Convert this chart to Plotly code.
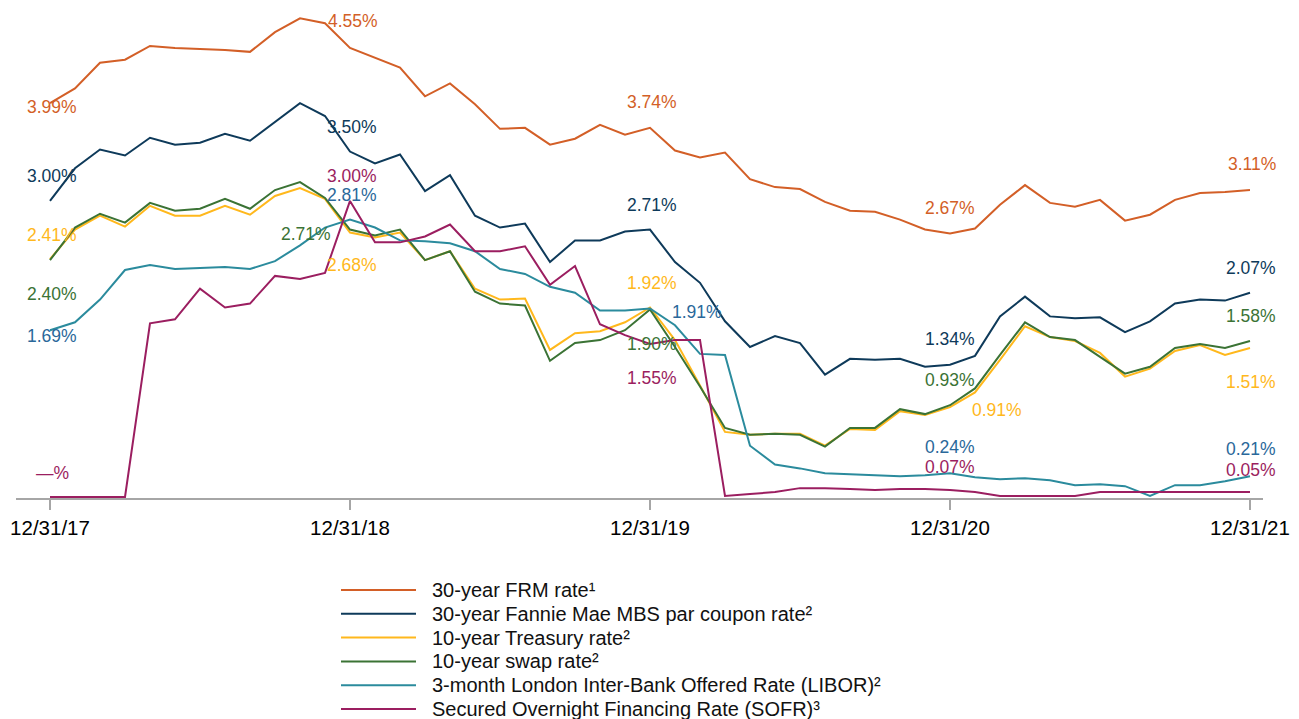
import pandas as pd
import plotly.graph_objects as go

# Month-end observation dates (12/31/17 .. 12/31/21)
months = list(pd.date_range("2017-12-31", periods=49, freq="ME").strftime("%m/%d/%y"))
tick_labels = ["12/31/17", "12/31/18", "12/31/19", "12/31/20", "12/31/21"]

frm = [3.99, 4.14, 4.40, 4.43, 4.57, 4.55, 4.54, 4.53, 4.51, 4.71,
       4.85, 4.80, 4.55, 4.45, 4.35, 4.06, 4.19, 3.98, 3.73, 3.74,
       3.57, 3.63, 3.77, 3.67, 3.74, 3.51, 3.44, 3.49, 3.22, 3.14,
       3.12, 2.99, 2.90, 2.89, 2.81, 2.71, 2.67, 2.72, 2.96, 3.16,
       2.98, 2.94, 3.01, 2.80, 2.86, 3.01, 3.08, 3.09, 3.11]
fannie = [3.00, 3.33, 3.52, 3.46, 3.64, 3.57, 3.59, 3.68, 3.61, 3.80,
          3.99, 3.86, 3.50, 3.38, 3.47, 3.10, 3.26, 2.85, 2.73, 2.77,
          2.38, 2.60, 2.60, 2.69, 2.71, 2.38, 2.17, 1.78, 1.52, 1.63,
          1.56, 1.24, 1.40, 1.39, 1.40, 1.32, 1.34, 1.43, 1.83, 2.03,
          1.83, 1.81, 1.82, 1.67, 1.78, 1.96, 2.00, 1.99, 2.07]
treasury = [2.41, 2.71, 2.85, 2.74, 2.95, 2.85, 2.85, 2.95, 2.86, 3.05,
            3.13, 3.02, 2.68, 2.63, 2.68, 2.40, 2.49, 2.11, 2.00, 2.01,
            1.49, 1.66, 1.68, 1.77, 1.92, 1.59, 1.13, 0.66, 0.63, 0.64,
            0.64, 0.52, 0.69, 0.68, 0.87, 0.83, 0.91, 1.06, 1.39, 1.73,
            1.62, 1.58, 1.46, 1.22, 1.30, 1.48, 1.54, 1.44, 1.51]
swap = [2.40, 2.73, 2.87, 2.78, 2.98, 2.90, 2.92, 3.02, 2.92, 3.11,
        3.19, 3.03, 2.71, 2.65, 2.71, 2.40, 2.49, 2.08, 1.96, 1.94,
        1.38, 1.56, 1.59, 1.69, 1.90, 1.52, 1.12, 0.70, 0.63, 0.64,
        0.63, 0.51, 0.70, 0.70, 0.89, 0.84, 0.93, 1.10, 1.44, 1.77,
        1.62, 1.59, 1.42, 1.25, 1.32, 1.51, 1.55, 1.51, 1.58]
libor = [1.69, 1.77, 2.00, 2.30, 2.35, 2.31, 2.32, 2.33, 2.31, 2.39,
         2.55, 2.73, 2.81, 2.73, 2.60, 2.59, 2.57, 2.49, 2.31, 2.26,
         2.13, 2.07, 1.89, 1.89, 1.91, 1.74, 1.45, 1.44, 0.52, 0.33,
         0.29, 0.24, 0.23, 0.22, 0.21, 0.22, 0.24, 0.20, 0.18, 0.19,
         0.17, 0.12, 0.13, 0.11, 0.01, 0.12, 0.12, 0.16, 0.21]
sofr = [0.00, 0.00, 0.00, 0.00, 1.76, 1.80, 2.11, 1.92, 1.96, 2.24,
        2.21, 2.27, 3.00, 2.58, 2.58, 2.64, 2.76, 2.49, 2.49, 2.54,
        2.15, 2.34, 1.75, 1.64, 1.55, 1.59, 1.59, 0.01, 0.03, 0.05,
        0.09, 0.09, 0.08, 0.07, 0.08, 0.08, 0.07, 0.05, 0.01, 0.01,
        0.01, 0.01, 0.05, 0.05, 0.05, 0.05, 0.05, 0.05, 0.05]

series_names = [
    "30-year FRM rate¹",
    "30-year Fannie Mae MBS par coupon rate²",
    "10-year Treasury rate²",
    "10-year swap rate²",
    "3-month London Inter-Bank Offered Rate (LIBOR)²",
    "Secured Overnight Financing Rate (SOFR)³",
]
series_values = [frm, fannie, treasury, swap, libor, sofr]
line_colors = ["#d35f27", "#0e3a5a", "#ffb81c", "#3b7335", "#2b8b9d", "#9b1e60"]
label_colors = ["#d35f27", "#0e3a5a", "#ffb81c", "#3b7335", "#2a689a", "#9b1e60"]

# Labelled points: (series index, month index, text, xshift, yshift)
point_labels = [
    (0, 0, "3.99%", 2, -4), (0, 12, "4.55%", 3, 27), (0, 24, "3.74%", 2, 26),
    (0, 36, "2.67%", 0, 25), (0, 48, "3.11%", 2, 26),
    (1, 0, "3.00%", 2, 25), (1, 12, "3.50%", 2, 25), (1, 24, "2.71%", 2, 25),
    (1, 36, "1.34%", 0, 26), (1, 48, "2.07%", 1, 25),
    (2, 0, "2.41%", 2, 24), (2, 12, "2.68%", 2, -33), (2, 24, "1.92%", 2, 25),
    (2, 36, "0.91%", 47, -3), (2, 48, "1.51%", 1, -34),
    (3, 0, "2.40%", 2, -34), (3, 12, "2.71%", -44, -4), (3, 24, "1.90%", 2, -35),
    (3, 36, "0.93%", 0, 25), (3, 48, "1.58%", 1, 25),
    (4, 0, "1.69%", 2, -6), (4, 12, "2.81%", 2, 25), (4, 24, "1.91%", 47, -4),
    (4, 36, "0.24%", 0, 26), (4, 48, "0.21%", 1, 27),
    (5, 0, "—%", 2, 24), (5, 12, "3.00%", 2, 25), (5, 24, "1.55%", 2, -34),
    (5, 36, "0.07%", 0, 23), (5, 48, "0.05%", 1, 22),
]

FONT = "Liberation Sans, Arial, sans-serif"

# The page adds an 8px body margin, so the figure is drawn 8px in from the corner.
OFF = 8
W, H = 1299 - OFF, 719 - OFF
L, T = 16 - OFF, 10 - OFF
R = W - (1263 - OFF)
B = H - (498 - OFF)
PW, PH = W - L - R, H - T - B


def px_to_paper(xp, yp):
    """Screen pixel -> paper coordinate (for the key below the axis)."""
    return (xp - OFF - L) / PW, (H - B - (yp - OFF)) / PH


fig = go.Figure()
for name, vals, col in zip(series_names, series_values, line_colors):
    fig.add_trace(go.Scatter(
        x=months, y=vals, mode="lines", name=name,
        line=dict(color=col, width=2), hoverinfo="skip", showlegend=False,
    ))

annotations = []
for si, mi, txt, xs, ys in point_labels:
    annotations.append(dict(
        x=months[mi], y=series_values[si][mi], xref="x", yref="y",
        text=txt, showarrow=False, xshift=xs, yshift=ys,
        font=dict(family=FONT, size=17.5, color=label_colors[si]),
    ))

# Key below the chart: a line sample and the series name per row
shapes = []
for k, (name, col) in enumerate(zip(series_names, line_colors)):
    yrow = 590 + 23.8 * k
    x0, y0 = px_to_paper(341, yrow)
    x1, _ = px_to_paper(416, yrow)
    xt, _ = px_to_paper(430, yrow)
    shapes.append(dict(type="line", xref="paper", yref="paper",
                       x0=x0, x1=x1, y0=y0, y1=y0,
                       line=dict(color=col, width=2)))
    annotations.append(dict(
        x=xt, y=y0, xref="paper", yref="paper", xanchor="left", yanchor="middle",
        text=name, showarrow=False,
        font=dict(family=FONT, size=20, color="#111111"),
    ))

fig.update_layout(
    width=W, height=H,
    margin=dict(l=L, r=R, t=T, b=B, autoexpand=False),
    paper_bgcolor="white", plot_bgcolor="white",
    font=dict(family=FONT, color="#111111"),
    showlegend=False,
    annotations=annotations,
    shapes=shapes,
    xaxis=dict(
        type="category", range=[-1.36, 48.52],
        tickvals=tick_labels, ticktext=tick_labels,
        showline=True, linecolor="#a6a6a6", linewidth=2,
        ticks="outside", ticklen=10, tickwidth=1.5, tickcolor="#a6a6a6",
        tickfont=dict(family=FONT, size=20.5, color="#000000"),
        showgrid=False, zeroline=False, fixedrange=True,
    ),
    yaxis=dict(
        range=[-0.01, 4.934], visible=False, showgrid=False,
        zeroline=False, fixedrange=True,
    ),
)

fig.write_html("out.html")
